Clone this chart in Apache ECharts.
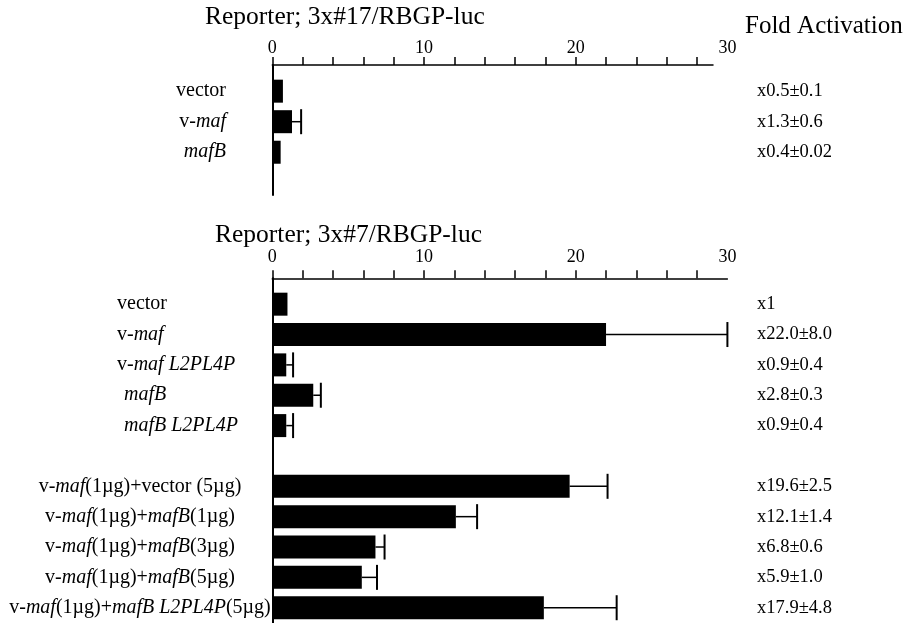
<!DOCTYPE html>
<html><head><meta charset="utf-8">
<script src="https://cdn.jsdelivr.net/npm/echarts@6/dist/echarts.min.js"></script>
<style>html,body{margin:0;padding:0;background:#fff}#c{width:909px;height:623px}</style>
</head><body><div id="c"></div>
<script>
// ---- data ----
const topCats = ['vector', 'v-maf', 'mafB'];
const topVals = [0.7, 1.3, 0.55];
const topErr = [0, 0.6, 0];
const topFold = ['x0.5±0.1', 'x1.3±0.6', 'x0.4±0.02'];

const botCatsUpper = ['vector', 'v-maf', 'v-maf L2PL4P', 'mafB', 'mafB L2PL4P', '', '', '', '', '', ''];
const botCatsLower = ['', '', '', '', '', '', 'v-maf(1µg)+vector (5µg)', 'v-maf(1µg)+mafB(1µg)', 'v-maf(1µg)+mafB(3µg)', 'v-maf(1µg)+mafB(5µg)', 'v-maf(1µg)+mafB L2PL4P(5µg)'];
const botVals = [1.0, 22.0, 0.92, 2.7, 0.92, null, 19.6, 12.1, 6.8, 5.9, 17.9];
const botErr = [0, 8.0, 0.45, 0.5, 0.45, null, 2.5, 1.4, 0.6, 1.0, 4.8];
const botFold = ['x1', 'x22.0±8.0', 'x0.9±0.4', 'x2.8±0.3', 'x0.9±0.4', '', 'x19.6±2.5', 'x12.1±1.4', 'x6.8±0.6', 'x5.9±1.0', 'x17.9±4.8'];

const tickVals = [0, 2, 4, 6, 8, 10, 12, 14, 16, 18, 20, 22, 24, 26, 28];
const labelVals = [0, 10, 20, 30];
const titles = ['Reporter; 3x#17/RBGP-luc', 'Reporter; 3x#7/RBGP-luc', 'Fold Activation'];

// ---- styling ----
const SERIF = '"Liberation Serif","Times New Roman",serif';
const BLACK = '#000';
function fmtLabel(s) {
  if (!s) return '';
  return s.replace(/(mafB L2PL4P|maf L2PL4P|mafB|maf)/g, '{i|$1}');
}
function fmtLabelIndent(s) {
  if (!s) return '';
  const body = fmtLabel(s);
  return s.indexOf('mafB') === 0 ? '{pad|}' + body : body;
}
function richFor(size) {
  return {
    i: { fontStyle: 'italic', fontFamily: SERIF, fontSize: size, color: BLACK },
    pad: { width: 7, fontSize: size }
  };
}
const X0 = 272.3, PX = 15.17;
const W30 = 30 * PX;

function frameAxes(gi, maxV) {
  return {
    x: { gridIndex: gi, type: 'value', min: 0, max: maxV, position: 'top',
      axisLine: { show: true, onZero: false, lineStyle: { color: BLACK, width: 1.5 } },
      axisTick: { show: false }, axisLabel: { show: false }, splitLine: { show: false } },
    y: { gridIndex: gi, type: 'value', min: 0, max: 1,
      axisLine: { show: true, onZero: false, lineStyle: { color: BLACK, width: 2 } },
      axisTick: { show: false }, axisLabel: { show: false }, splitLine: { show: false } }
  };
}
function tickAxis(gi, offset, margin) {
  return { gridIndex: gi, type: 'value', min: 0, max: 30, position: 'top', offset: offset,
    axisLine: { show: false },
    axisTick: { show: true, inside: false, length: 8, customValues: tickVals, lineStyle: { color: BLACK, width: 1.5 } },
    axisLabel: { show: true, customValues: labelVals, margin: margin, color: BLACK, fontFamily: SERIF, fontSize: 18 },
    splitLine: { show: false } };
}
function catAxis(gi, data, opts) {
  return Object.assign({ gridIndex: gi, type: 'category', data: data, inverse: true,
    axisLine: { show: false }, axisTick: { show: false }, splitLine: { show: false } }, opts);
}

const fT = frameAxes(0, 29.05), fB = frameAxes(2, 30);
const gTopBarsTop = 75.9, gTopBarsH = 91.6;
const gBotBarsTop = 289, gBotBarsH = 333.9;

function errRender() {
  return function (params, api) {
    const v = api.value(0), e = api.value(1), c = api.value(2);
    if (!e) return null;
    const p0 = api.coord([v, c]);
    const p1 = api.coord([v + e, c]);
    const half = 12.5;
    return { type: 'group', children: [
      { type: 'line', shape: { x1: p0[0], y1: p0[1], x2: p1[0], y2: p1[1] }, style: { stroke: BLACK, lineWidth: 1.5 } },
      { type: 'line', shape: { x1: p1[0], y1: p1[1] - half, x2: p1[0], y2: p1[1] + half }, style: { stroke: BLACK, lineWidth: 2 } }
    ] };
  };
}
const catLabelStyle = (margin, align, size, fmt) => ({ align: align, margin: margin, color: BLACK, fontFamily: SERIF, fontSize: size, formatter: fmt || fmtLabel, rich: richFor(size) });
const foldLabelStyle = { align: 'left', margin: 757 - X0 - W30, color: BLACK, fontFamily: SERIF, fontSize: 18.5 };
const titleStyle = (size) => ({ fontFamily: SERIF, fontSize: size, fontWeight: 'normal', color: BLACK });

const option = {
  animation: false,
  backgroundColor: '#fff',
  title: [
    { text: titles[0], left: 205, top: 4, padding: 0, textStyle: titleStyle(25.5) },
    { text: titles[1], left: 215, top: 222, padding: 0, textStyle: titleStyle(25.5) },
    { text: titles[2], left: 745, top: 14, padding: 0, textStyle: titleStyle(25) }
  ],
  grid: [
    { left: X0, top: 65, width: 28.92 * PX + 2, height: 130 },
    { left: X0, top: gTopBarsTop, width: W30, height: gTopBarsH },
    { left: X0, top: 278.3, width: W30, height: 623 - 278.3 },
    { left: X0, top: gBotBarsTop, width: W30, height: gBotBarsH }
  ],
  xAxis: [
    fT.x,
    tickAxis(1, gTopBarsTop - 65, 8),
    fB.x,
    tickAxis(3, gBotBarsTop - 278.3, 12)
  ],
  yAxis: [
    fT.y,
    catAxis(1, topCats, { position: 'left', axisLabel: catLabelStyle(X0 - 226, 'right', 20) }),
    catAxis(1, topFold, { position: 'right', axisLabel: foldLabelStyle }),
    fB.y,
    catAxis(3, botCatsUpper, { position: 'left', axisLabel: catLabelStyle(X0 - 117, 'left', 20, fmtLabelIndent) }),
    catAxis(3, botCatsLower, { position: 'left', axisLabel: catLabelStyle(X0 - 140, 'center', 20) }),
    catAxis(3, botFold, { position: 'right', axisLabel: foldLabelStyle })
  ],
  series: [
    { type: 'bar', xAxisIndex: 1, yAxisIndex: 1, data: topVals, barWidth: 23, itemStyle: { color: BLACK } },
    { type: 'custom', xAxisIndex: 1, yAxisIndex: 1, renderItem: errRender(),
      data: topVals.map((v, i) => [v, topErr[i], i]), encode: { x: 0, y: 2 } },
    { type: 'bar', xAxisIndex: 3, yAxisIndex: 4, data: botVals, barWidth: 23, itemStyle: { color: BLACK } },
    { type: 'custom', xAxisIndex: 3, yAxisIndex: 4, renderItem: errRender(),
      data: botVals.map((v, i) => [v, botErr[i], i]).filter(d => d[0] != null), encode: { x: 0, y: 2 } }
  ]
};
const chart = echarts.init(document.getElementById('c'), null, { renderer: 'canvas' });
chart.setOption(option);
</script></body></html>
